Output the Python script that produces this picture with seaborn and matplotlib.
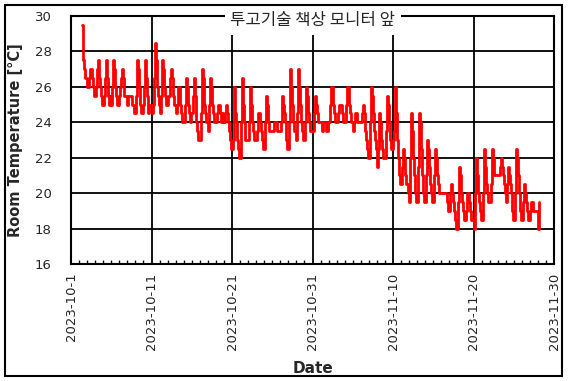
import pandas as pd
import seaborn as sns
import matplotlib.pyplot as plt
import matplotlib.dates as mdates
from matplotlib.patches import Rectangle

# 3-hourly readings starting 2023-10-02 09:00
start = '2023-10-02 09:00'
temps = [
    29.5, 27.5, 27, 26.5, 26.5,
    26, 26, 26.5, 27, 27, 26.5, 26, 25.5,
    25.5, 26, 27, 27.5, 26.5, 26, 25.5, 25,
    25, 25.5, 26.5, 27.5, 26.5, 25.5, 25, 25.5,
    25, 26, 27.5, 27, 26, 25.5, 25, 25,
    25.5, 26, 26.5, 27, 26.5, 25.5, 25.5, 25.5,
    25, 25.5, 25.5, 25.5, 25.5, 25, 25, 24.5,
    24.5, 25.5, 27.5, 27, 26, 25, 24.5, 24.5,
    25, 26, 27.5, 26.5, 25.5, 24.5, 25, 25,
    24.5, 25, 26.5, 28.5, 27.5, 26, 25.5, 25,
    24.5, 25.5, 27.5, 27, 26, 25.5, 25, 25,
    25.5, 25.5, 26.5, 27, 26.5, 25.5, 25, 25,
    24.5, 25, 26, 26, 25, 24.5, 24, 24,
    24, 25, 26.5, 26, 25, 24.5, 24, 24.5,
    24.5, 25.5, 26.5, 25.5, 24, 23.5, 23, 23,
    23, 24.5, 27, 26.5, 25, 24.5, 24, 24,
    23.5, 25, 26.5, 26, 25, 24.5, 24, 24,
    24, 24.5, 25, 25, 24.5, 24, 24.5, 24,
    24, 24.5, 25, 24.5, 24, 23.5, 23, 22.5,
    22.5, 23, 26, 24.5, 24, 23, 22.5, 22,
    22, 24, 26.5, 25, 24, 23, 23, 23,
    23, 24, 26, 25, 24, 23.5, 23, 23,
    23, 23.5, 24.5, 24.5, 24, 23.5, 23, 22.5,
    22.5, 24, 25.5, 25, 24, 23.5, 23.5, 23.5,
    23.5, 23.5, 24, 24, 24, 23.5, 23.5, 23.5,
    23.5, 24, 25.5, 25, 24.5, 24, 23, 22.5,
    22.5, 24, 27, 26, 25, 24, 23.5, 23.5,
    23, 24.5, 27, 26, 25, 24, 23.5, 23,
    23, 24, 26, 25.5, 24.5, 24, 23.5, 23.5,
    23.5, 24.5, 25.5, 25, 24.5, 24, 24, 24,
    24, 23.5, 24, 24, 24, 23.5, 23.5, 24,
    24, 25, 26, 26, 25, 24.5, 24, 24,
    24, 24.5, 25, 25, 25, 24.5, 24, 24,
    24, 25, 26, 26, 25, 24.5, 24, 24,
    23.5, 24, 24.5, 24.5, 24, 24, 24, 24,
    24, 24.5, 25, 24.5, 23.5, 23, 22.5, 22,
    22, 24, 26, 25.5, 24.5, 23.5, 23, 22.5,
    21.5, 22.5, 24.5, 24, 23, 22.5, 22, 22,
    22, 23.5, 25.5, 25, 24, 23, 22.5, 22.5,
    23, 23.5, 26, 24.5, 23, 22, 21, 20.5,
    20.5, 21.5, 22.5, 22, 21, 20.5, 20.5, 20,
    19.5, 22, 24.5, 23.5, 22, 21, 20, 19.5,
    19.5, 21.5, 24.5, 24, 22.5, 21, 20, 19.5,
    19.5, 21, 23, 22.5, 21.5, 20.5, 20, 19.5,
    19.5, 21, 22.5, 22, 21, 20.5, 20, 20,
    20, 20, 20, 20, 20, 20, 19.5, 19,
    19, 20, 20.5, 20, 19.5, 19, 18.5, 18,
    18, 19.5, 21.5, 21, 20, 19.5, 19, 18.5,
    18.5, 19, 20, 20, 19.5, 19, 18.5, 18.5,
    18, 20, 22, 21, 20, 19.5, 19, 18.5,
    18.5, 20, 22.5, 21.5, 20.5, 20, 19.5, 19.5,
    19.5, 20.5, 22.5, 22, 21, 21, 21, 21,
    21, 21, 21.5, 22, 21.5, 21, 20.5, 20,
    19.5, 20.5, 21.5, 21, 20.5, 20, 19, 18.5,
    18.5, 20, 22.5, 22, 21, 20, 19, 18.5,
    18.5, 19.5, 20.5, 20, 19.5, 19, 18.5, 18.5,
    19, 19.5, 19.5, 19, 19, 19, 19, 19,
    18, 19.5,
]
tick_dates = ['2023-10-01', '2023-10-11', '2023-10-21', '2023-10-31',
              '2023-11-10', '2023-11-20', '2023-11-30']
y_ticks = [16, 18, 20, 22, 24, 26, 28, 30]
title = '투고기술 책상 모니터 앞'

df = pd.DataFrame({'time': pd.date_range(start, periods=len(temps), freq='3h'),
                   'temp': temps})

sns.set_style('white')
plt.rcParams['font.family'] = ['DejaVu Sans', 'Noto Sans CJK KR']

fig = plt.figure(figsize=(5.68, 3.81), dpi=100)
ax = fig.add_axes([71 / 568, 1 - 264 / 381, 483 / 568, 248 / 381])

sns.lineplot(data=df, x='time', y='temp', ax=ax, color='#ff0000',
             linewidth=2, drawstyle='steps-post')

ticks = pd.to_datetime(tick_dates)
ax.set_xlim(ticks[0], ticks[-1])
ax.set_ylim(16, 30)
ax.set_xticks(ticks)
ax.set_xticklabels([f'{d.year}-{d.month}-{d.day}' for d in ticks],
                   rotation=90, fontsize=9.5)
ax.xaxis.set_minor_locator(mdates.DayLocator())
ax.set_yticks(y_ticks)
ax.set_yticklabels([str(v) for v in y_ticks], fontsize=9.5)
ax.tick_params(axis='both', which='major', length=0, pad=6)
ax.tick_params(axis='y', which='major', pad=14)
ax.tick_params(axis='x', which='minor', direction='in', length=3,
               width=1, bottom=True, color='black')

ax.grid(True, which='major', color='black', linewidth=1.3)
for s in ax.spines.values():
    s.set_color('black')
    s.set_linewidth(1.5)

ax.set_xlabel('Date', fontsize=11, fontweight='bold', labelpad=8)
ax.set_ylabel('Room Temperature [°C]', fontsize=10.5, fontweight='bold',
              labelpad=8)

ax.text(0.5, 0.98, title, transform=ax.transAxes, ha='center', va='center',
        fontsize=12, fontweight='medium',
        family=['Noto Sans CJK KR', 'DejaVu Sans'], zorder=5,
        bbox=dict(facecolor='white', edgecolor='none', pad=4))

fig.patches.append(Rectangle((5 / 568, 5 / 381), 557 / 568, 371 / 381,
                             transform=fig.transFigure, fill=False,
                             edgecolor='black', linewidth=1.5))

fig.savefig('out.png', dpi=100)
